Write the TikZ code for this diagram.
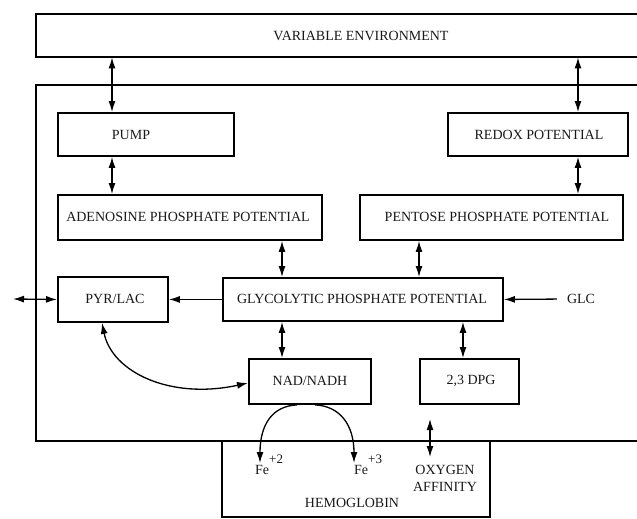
\documentclass[tikz,border=0pt]{standalone}
\usepackage{fontspec}
\setmainfont{Liberation Serif}
\usetikzlibrary{arrows.meta}
\begin{document}
\begin{tikzpicture}[x=1pt,y=-1pt,
  every node/.style={font=\fontsize{14}{17}\selectfont, text=black!90},
  box/.style={draw, line width=1.9pt, inner sep=0pt, anchor=north west},
  area/.style={inner sep=0pt, anchor=north west},
  frame/.style={line width=1.9pt},
  tip/.tip={Latex[length=11pt,width=7pt]},
  dbl/.style={line width=1.3pt, tip-tip},
  arr/.style={line width=1.3pt, -tip}]
\useasboundingbox (0,0) rectangle (637,519);

% open frames
\node[area, minimum width=601pt, minimum height=43pt] (env) at (36,14) {};
\draw[frame] (env.north east) -- (env.north west) -- (env.south west) -- (env.south east);
\node (envt) at (361,36) {VARIABLE ENVIRONMENT};

\node[area, minimum width=601pt, minimum height=356pt] (cell) at (36,85) {};
\draw[frame] (cell.north east) -- (cell.north west) -- (cell.south west) -- (cell.south east);

\node[area, minimum width=268pt, minimum height=76pt] (hemo) at (222,441) {};
\draw[frame] (hemo.north west) -- (hemo.south west) -- (hemo.south east) -- (hemo.north east);
\node (hemot) at (352,503) {HEMOGLOBIN};

% boxes
\node[box, minimum width=176pt, minimum height=43pt] (pump) at (57,112) {};
\node at (131,135) {PUMP};
\node[box, minimum width=180pt, minimum height=43pt] (redox) at (447,112) {};
\node at (539,135) {REDOX POTENTIAL};
\node[box, minimum width=264pt, minimum height=45pt] (aden) at (57,194) {};
\node at (188,217) {ADENOSINE PHOSPHATE POTENTIAL};
\node[box, minimum width=263pt, minimum height=45pt] (pent) at (359,194) {};
\node at (497,217) {PENTOSE PHOSPHATE POTENTIAL};
\node[box, minimum width=280pt, minimum height=43pt] (glyc) at (222,277) {};
\node at (362,299) {GLYCOLYTIC PHOSPHATE POTENTIAL};
\node[box, minimum width=110pt, minimum height=45pt] (pyr) at (57,276) {};
\node at (115,299) {PYR/LAC};
\node[box, minimum width=122pt, minimum height=45pt] (nad) at (248,358) {};
\node at (310,381) {NAD/NADH};
\node[box, minimum width=99pt, minimum height=45pt] (dpg) at (419,358) {};
\node at (471,381) {2,3 DPG};

\node[inner sep=0pt] (glc) at (581,299) {GLC};
\node[inner sep=0pt, anchor=base west] (fe2) at (255,474)
  {Fe\raisebox{11pt}{\fontsize{13}{13}\selectfont +2}};
\node[inner sep=0pt, anchor=base west] (fe3) at (354,474)
  {Fe\raisebox{11pt}{\fontsize{13}{13}\selectfont +3}};
\node[align=center, inner sep=0pt] (oxy) at (445,478) {OXYGEN\\AFFINITY};

\coordinate (out) at (13,299);
\coordinate (fe2tip) at (260,463);
\coordinate (fe3tip) at (354,463);
\coordinate (oxa) at (430,419);
\coordinate (oxb) at (430,457);

% connectors
\draw[dbl] (112,0 |- env.south) -- (112,0 |- pump.north);
\draw[dbl] (578,0 |- env.south) -- (578,0 |- redox.north);
\draw[dbl] (112,0 |- pump.south) -- (112,0 |- aden.north);
\draw[dbl] (578,0 |- redox.south) -- (578,0 |- pent.north);
\draw[dbl] (282,0 |- aden.south) -- (282,0 |- glyc.north);
\draw[dbl] (419,0 |- pent.south) -- (419,0 |- glyc.north);
\draw[dbl] (282,0 |- glyc.south) -- (282,0 |- nad.north);
\draw[dbl] (463,0 |- glyc.south) -- (463,0 |- dpg.north);
\draw[arr] (glyc.west) -- (pyr.east);
\draw[arr, shorten <=10pt] (glc.west) -- (glyc.east);
\draw[dbl] (out) -- (pyr.west);
\draw[dbl] (102,0 |- pyr.south) .. controls (112,372) and (170,400) .. (nad.west |- 0,383);
\draw[arr] (297,0 |- nad.south) .. controls (272,406) and (260,425) .. (fe2tip);
\draw[arr] (315,0 |- nad.south) .. controls (340,406) and (354,425) .. (fe3tip);
\draw[dbl] (oxa) -- (oxb);
\end{tikzpicture}
\end{document}
